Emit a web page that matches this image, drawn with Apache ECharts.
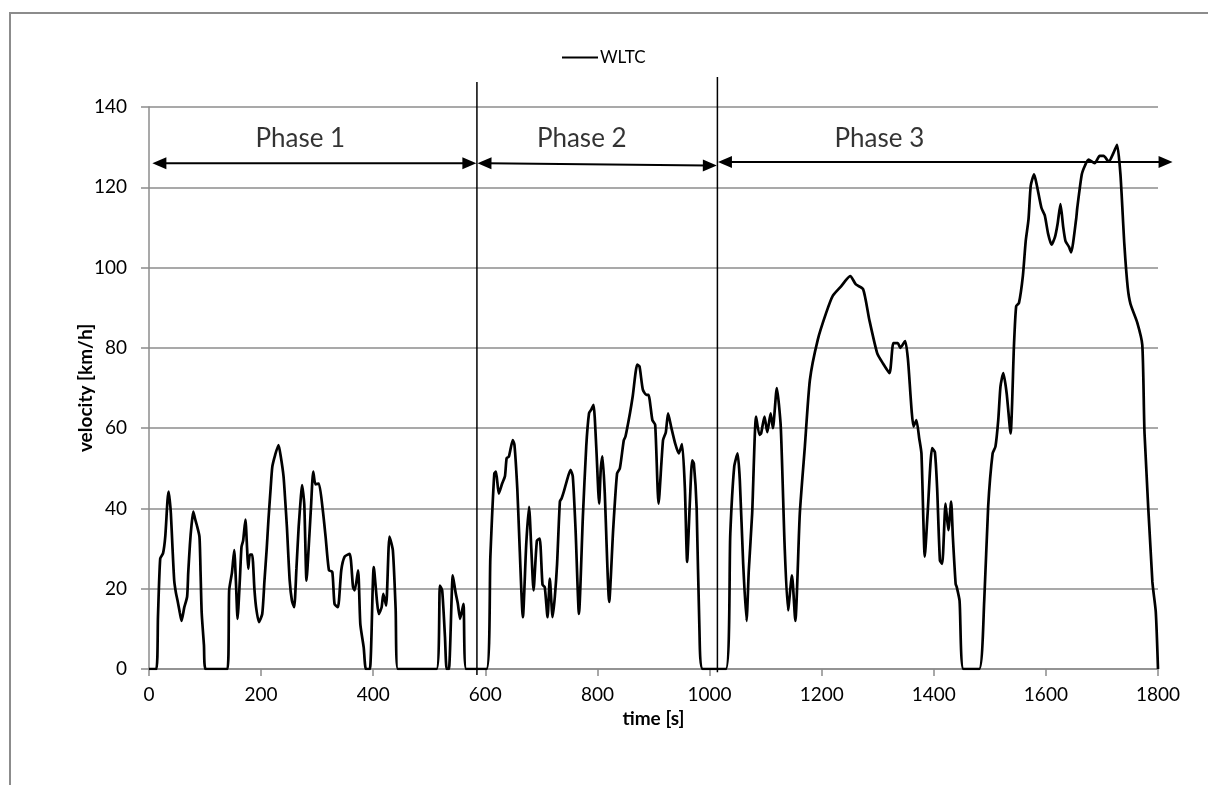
<!DOCTYPE html>
<html>
<head>
<meta charset="utf-8">
<script src="https://cdn.jsdelivr.net/npm/echarts@6/dist/echarts.min.js"></script>
<style>
html,body{margin:0;padding:0;background:#fff;}
#chart{width:1208px;height:785px;}
</style>
</head>
<body>
<div id="chart"></div>
<script>
// WLTC speed trace: [time s, velocity km/h]
const wltc = [
[0,0],[13,0],[16,13],[20,27.5],[25,28.8],[29,33],[33,42],[35,44.2],[37,42],[39,38.8],[42,30],[45,22],[48,19],[51,17],[55,14],[58,12],[63,15.4],[68,18],[70,24],[73,31],[76,36],[79,39.2],[82,37.5],[85,36],[90,33],[92,24],[94,14],[98,6],[101,0],
[140,0],[143,19.6],[148,24],[152,29.6],[155,22],[158,12.5],[162,22],[165,30.4],[168,32],[172,37.2],[175,30],[177,25],[180,28.5],[184,28.5],[188,20],[191,15.4],[196,11.7],[202,13.7],[206,22],[210,30],[213,37],[217,45],[220,50.4],[225,53.3],[231,55.8],[235,53],[240,48],[243,42],[246,35.4],[251,22],[255,17],[259,15.4],[263,25],[267,35.4],[271,43],[273,45.8],[277,41],[281,22],[286,33],[289,40.4],[293,49.2],[297,46],[303,46.2],[310,39.6],[315,33],[321,24.6],[327,24.2],[331,16.2],[337,15.4],[343,24.6],[349,28],[358,28.7],[364,20.4],[367,19.6],[373,24.6],[377,11.2],[383,5.4],[387,0],[394,0],[401,25.4],[410,13.7],[415,15.4],[418,18.7],[423,15.8],[429,33],[435,29.6],[440,15],[444,0],
[513,0],[519,20.8],[523,19.6],[528,8],[531,0],[535,0],[542,23.3],[547,19],[551,16.2],[555,12.5],[561,16.2],[566,0],
[602,0],[609,28],[616,48.7],[619,49.2],[624,43.7],[630,46.2],[635,48],[638,52.5],[642,52.9],[649,57],[652,55.8],[657,45],[660,34.6],[667,12.9],[673,31.2],[678,40.4],[682,30],[686,19.6],[692,32],[697,32.5],[702,21],[706,20.4],[711,12.9],[715,22.5],[720,12.9],[724,18],[728,26.2],[733,41.7],[736,42.5],[740,44.2],[745,46.7],[752,49.6],[756,48],[761,34.6],[767,13.7],[774,37.9],[780,55.4],[785,63.7],[789,64.6],[793,65.8],[798,55],[803,41.2],[806,50],[809,53],[813,44],[821,16.7],[828,34.6],[835,48.7],[840,50],[847,57],[850,57.9],[858,63.7],[863,68],[871,75.8],[875,75.4],[881,69.6],[887,68.3],[891,68.3],[898,62],[903,60.8],[909,41.2],[917,57],[922,59],[926,63.7],[932,60],[939,56],[945,53.7],[951,56],[956,45],[960,26.7],[965,42],[969,52],[972,51.2],[977,40],[982,9.6],[988,0],
[1029,0],[1037,33.7],[1044,50.4],[1050,53.7],[1054,47],[1060,26.2],[1066,12],[1070,24.6],[1076,38.7],[1083,62.9],[1089,58.3],[1092,58.7],[1098,62.9],[1103,59],[1109,63.7],[1113,60],[1120,70],[1127,60.4],[1134,30.4],[1140,14.6],[1147,23.3],[1153,12],[1161,38.7],[1170,55.4],[1179,72],[1193,82],[1208,88.7],[1220,93],[1235,95.4],[1244,97],[1251,97.9],[1261,95.8],[1274,94.6],[1285,87],[1299,78.7],[1309,76.2],[1321,73.7],[1328,81.2],[1336,81.2],[1340,80],[1349,81.7],[1354,77],[1364,60.4],[1369,62],[1374,57.5],[1378,53.7],[1384,28],[1389,38.7],[1397,55],[1402,54],[1406,45],[1411,27],[1415,26.2],[1421,41.2],[1426,34.6],[1431,41.7],[1434,33],[1439,21.2],[1441,20.4],[1446,17],[1453,0],
[1481,0],[1490,17],[1497,40.4],[1505,53.7],[1510,55.4],[1515,62],[1519,70.4],[1524,73.7],[1530,68.7],[1537,58.7],[1543,80.4],[1547,90.4],[1552,91.2],[1559,98],[1564,106.6],[1569,112],[1573,120.4],[1579,123.2],[1584,120.4],[1592,114.9],[1598,113],[1604,108.4],[1610,105.7],[1616,107.5],[1621,111],[1626,115.8],[1631,110],[1635,106.6],[1641,105.2],[1645,103.8],[1654,112.1],[1656,114.9],[1664,123.2],[1670,125.5],[1676,126.9],[1687,126],[1696,127.8],[1703,127.8],[1712,126.4],[1721,128.7],[1727,130.6],[1733,123.2],[1740,105.7],[1746,95],[1751,90.9],[1763,86.3],[1772,80.7],[1776,58.6],[1790,21.7],[1796,14.3],[1800,0]
];

const xTicks = { min: 0, max: 1800, step: 200 };
const yTicks = { min: 0, max: 140, step: 20 };

// phase boundaries: [time, bottom, top]
const phaseLines = [[585, -1.5, 146.2], [1014, -0.8, 147.5]];
// phase arrows: [startTime, startV, endTime, endV]
const phaseArrows = [[6, 126, 584, 126], [586, 126, 1013, 125.4], [1015, 126.3, 1826, 126.3]];
// phase labels: [name, time, velocity]
const phaseLabels = [['Phase 1', 270, 132.2], ['Phase 2', 772, 132.2], ['Phase 3', 1303, 132.2]];

const FONT = 'Lato, "Open Sans", sans-serif';
const chart = echarts.init(document.getElementById('chart'), null, {renderer: 'canvas'});

function arrowItem(params, api) {
  const a = api.coord([api.value(0), api.value(1)]);
  const b = api.coord([api.value(2), api.value(3)]);
  const dx = b[0] - a[0], dy = b[1] - a[1];
  const len = Math.sqrt(dx * dx + dy * dy);
  const ux = dx / len, uy = dy / len, nx = -uy, ny = ux;
  const L = 14, W = 6;
  const head = function (tip, dir) {
    const bx = tip[0] - dir * ux * L, by = tip[1] - dir * uy * L;
    return [[tip[0], tip[1]], [bx + nx * W, by + ny * W], [bx - nx * W, by - ny * W]];
  };
  return {
    type: 'group',
    children: [
      { type: 'line', shape: { x1: a[0] + ux * 10, y1: a[1] + uy * 10, x2: b[0] - ux * 10, y2: b[1] - uy * 10 },
        style: { stroke: '#000', lineWidth: 2 } },
      { type: 'polygon', shape: { points: head(b, 1) }, style: { fill: '#000' } },
      { type: 'polygon', shape: { points: head(a, -1) }, style: { fill: '#000' } }
    ]
  };
}

const series = [
  {
    name: 'WLTC', type: 'line', data: wltc, symbol: 'none', showSymbol: false, smooth: 0.2,
    lineStyle: { color: '#000', width: 2.7 }, itemStyle: { color: '#000' }, z: 5
  }
];
phaseLines.forEach(function (p, i) {
  series.push({
    name: 'boundary' + i, type: 'line', data: [[p[0], p[1]], [p[0], p[2]]],
    symbol: 'none', clip: false, silent: true,
    lineStyle: { color: '#000', width: 1.5 }, z: 4
  });
});
series.push({
  name: 'arrows', type: 'custom', clip: false, silent: true,
  data: phaseArrows, encode: { x: [0, 2], y: [1, 3] },
  renderItem: arrowItem, z: 6
});
series.push({
  name: 'phases', type: 'scatter', symbolSize: 0, silent: true, clip: false,
  data: phaseLabels.map(function (p) { return { name: p[0], value: [p[1], p[2]] }; }),
  label: { show: true, position: 'inside', formatter: '{b}', color: '#000', fontSize: 26, fontFamily: FONT }
});

chart.setOption({
  backgroundColor: '#fff',
  animation: false,
  graphic: [{
    type: 'polyline', silent: true,
    shape: { points: [[10, 785], [10, 13], [1208, 13]] },
    style: { stroke: '#8c8c8c', lineWidth: 2, fill: null }
  }],
  legend: {
    data: [{ name: 'WLTC', icon: 'rect' }], left: 557, top: 44, itemWidth: 36, itemHeight: 2, itemGap: 4,
    itemStyle: { color: '#000' },
    textStyle: { fontFamily: FONT, fontSize: 17, color: '#000', padding: [0, 0, 0, -3] }
  },
  grid: { left: 149, right: 50, top: 107, bottom: 116, containLabel: false },
  xAxis: {
    type: 'value', min: xTicks.min, max: xTicks.max, interval: xTicks.step,
    name: 'time [s]', nameLocation: 'middle', nameGap: 40,
    nameTextStyle: { fontFamily: FONT, fontSize: 19, fontWeight: 'bold', color: '#000' },
    axisLine: { show: true, onZero: false, lineStyle: { color: '#8c8c8c', width: 1.5 } },
    axisTick: { show: true, length: 7, lineStyle: { color: '#8c8c8c', width: 1.5 } },
    axisLabel: { fontFamily: FONT, fontSize: 19, color: '#000', margin: 16,
      formatter: function (v) { return String(v); } },
    splitLine: { show: false }
  },
  yAxis: {
    type: 'value', min: yTicks.min, max: yTicks.max, interval: yTicks.step,
    name: 'velocity [km/h]', nameLocation: 'middle', nameGap: 54, nameRotate: 90,
    nameMoveOverlap: false,
    nameTextStyle: { fontFamily: FONT, fontSize: 19, fontWeight: 'bold', color: '#000' },
    axisLine: { show: true, lineStyle: { color: '#8c8c8c', width: 1.5 } },
    axisTick: { show: true, length: 8, lineStyle: { color: '#8c8c8c', width: 1.5 } },
    axisLabel: { fontFamily: FONT, fontSize: 19, color: '#000', margin: 22,
      formatter: function (v) { return String(v); } },
    splitLine: { show: true, lineStyle: { color: '#8c8c8c', width: 1.5 } }
  },
  series: series
});
</script>
</body>
</html>
